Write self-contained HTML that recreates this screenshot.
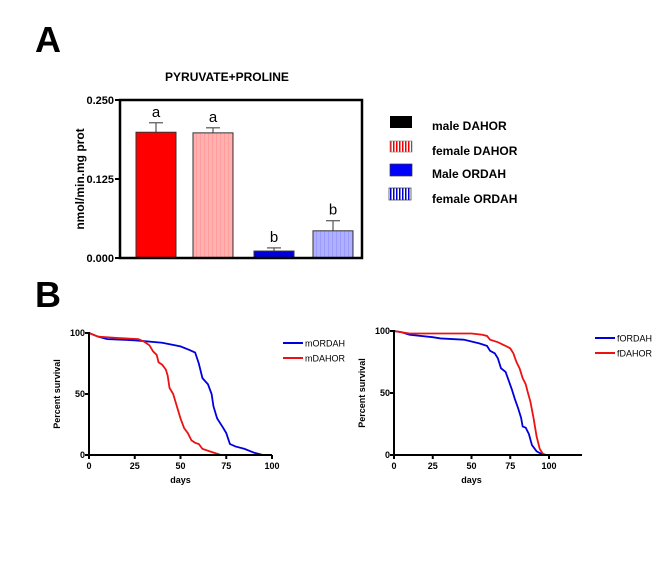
<!DOCTYPE html>
<html><head><meta charset="utf-8"><style>
body{margin:0;background:#fff;}
svg{display:block;font-family:"Liberation Sans",Arial,sans-serif;}
</style></head><body>
<svg id="fig" width="672" height="566" viewBox="0 0 672 566">
<defs>
<pattern id="pinkStripe" width="4" height="4" patternUnits="userSpaceOnUse"><rect width="4" height="4" fill="#ffb0b0"/><rect width="1" height="4" fill="#ff9c9c"/></pattern>
<pattern id="blueStripe" width="4" height="4" patternUnits="userSpaceOnUse"><rect width="4" height="4" fill="#b0b0ff"/><rect width="1" height="4" fill="#9c9cff"/></pattern>
<pattern id="legRed" width="3" height="4" patternUnits="userSpaceOnUse"><rect width="3" height="4" fill="#fff"/><rect width="1.5" height="4" fill="#e00"/></pattern>
<pattern id="legBlue" width="3" height="4" patternUnits="userSpaceOnUse"><rect width="3" height="4" fill="#fff"/><rect width="1.5" height="4" fill="#00c"/></pattern>
</defs>
<text x="35" y="52" font-size="36" font-weight="bold">A</text>
<text x="35" y="307" font-size="36" font-weight="bold">B</text>
<text x="227" y="81" font-size="12" font-weight="bold" text-anchor="middle">PYRUVATE+PROLINE</text>
<text transform="translate(84,179) rotate(-90)" font-size="12" font-weight="bold" text-anchor="middle">nmol/min.mg prot</text>
<g id="bars"></g>
<g>
<rect x="390" y="116" width="22" height="12" fill="#000"/>
<text x="432" y="130" font-size="12" font-weight="bold">male DAHOR</text>
<rect x="390" y="141" width="22" height="11" fill="url(#legRed)" stroke="#888" stroke-width="0.7"/>
<text x="432" y="155" font-size="12" font-weight="bold">female DAHOR</text>
<rect x="390" y="164" width="22" height="12" fill="#0000ff" stroke="#333" stroke-width="0.7"/>
<text x="432" y="178" font-size="12" font-weight="bold">Male ORDAH</text>
<rect x="389" y="188" width="22" height="12" fill="url(#legBlue)" stroke="#333" stroke-width="0.7"/>
<text x="432" y="203" font-size="12" font-weight="bold">female ORDAH</text>
</g>
<g id="surv1"></g>
<g id="surv2"></g>
</svg>
<script>
const barCats=["male DAHOR","female DAHOR","Male ORDAH","female ORDAH"];
const barVals=[0.199,0.198,0.011,0.043];
const barErr=[0.015,0.008,0.005,0.016];
const barLetters=["a","a","b","b"];
const barTicks=[0,0.125,0.25];
const barTickLabels=["0.000","0.125","0.250"];

const mDays=[0,5,10,25,40,50,55,58,60,62,65,67,68,70,73,75,77,80,85,90,95,100];
const mORDAH=[100,97,95,94,92,89,86,84,75,63,58,50,40,30,23,18,9,7,5,2,0,0];
const mDaysD=[0,5,15,27,30,33,35,37,38,40,42,43,44,46,48,50,52,54,56,58,60,62,66,70,72];
const mDAHOR=[100,97,96,95,93,90,85,82,76,74,70,65,55,50,40,30,22,18,12,10,9,5,3,1,0];
const fDaysO=[0,5,10,25,30,45,55,60,62,65,67,69,72,74,76,78,80,82,83,85,87,89,92,95,97];
const fORDAH=[100,99,97,95,94,93,90,88,84,82,78,70,67,60,53,45,38,30,23,22,17,8,3,1,0];
const fDaysD=[0,10,50,57,60,62,67,72,75,77,79,81,83,85,86,88,90,92,94,96,98];
const fDAHOR=[100,98,98,97,96,93,91,88,86,82,75,70,62,57,52,43,30,15,5,1,0];
const survTicksY=[0,50,100];
const survTicksX1=[0,25,50,75,100];
const survTicksX2=[0,25,50,75,100];

const NS="http://www.w3.org/2000/svg";
function mk(p,t,a){const e=document.createElementNS(NS,t);for(const k in a)e.setAttribute(k,a[k]);p.appendChild(e);return e;}

const bg=document.getElementById('bars');
const L=120,R=362,T=100,B=258;
const yB=v=>B-(v/0.25)*(B-T);
const bx=[136,193,254,313],bw=40;
const fills=["#ff0000","url(#pinkStripe)","#0000dd","url(#blueStripe)"];
barVals.forEach((v,i)=>{
  const cx=bx[i]+bw/2;
  const el=mk(bg,'line',{x1:cx,x2:cx,y1:yB(v),y2:yB(v+barErr[i]),stroke:'#555','stroke-width':1.2});
  
  
  const c=mk(bg,'line',{x1:cx-7,x2:cx+7,y1:yB(v+barErr[i]),y2:yB(v+barErr[i]),stroke:'#555','stroke-width':1.2});
  
  
  const r=mk(bg,'rect',{x:bx[i],y:yB(v),width:bw,height:B-yB(v),fill:fills[i],stroke:'#333','stroke-width':1});
  
  
  const t=mk(bg,'text',{x:cx,y:yB(v+barErr[i])-6,'font-size':15,'text-anchor':'middle'});
  t.textContent=barLetters[i];
  
  
});
const frame=mk(bg,'rect',{x:L,y:T,width:R-L,height:B-T,fill:'none',stroke:'#000','stroke-width':2.5});


barTicks.forEach((v,i)=>{
  const tl=mk(bg,'line',{x1:L-5,x2:L,y1:yB(v),y2:yB(v),stroke:'#000','stroke-width':2});
  
  
  const t=mk(bg,'text',{x:L-6,y:yB(v)+4,'font-size':11,'font-weight':'bold','text-anchor':'end'});
  t.textContent=barTickLabels[i];
  
  
});

function surv(gid,ox,x100,xEnd,xMax,y0,y100,series,ticksX,leg){
  const g=document.getElementById(gid);
  const X=d=>ox+d/100*(x100-ox), Y=v=>y0-v/100*(y0-y100);
  series.forEach(s=>{
    const pts=s.d.map((d,i)=>X(d)+','+Y(s.v[i]));
    const p=mk(g,'polyline',{points:pts.join(' '),fill:'none',stroke:s.c,'stroke-width':1.8});
    
    
  });
  const ax=mk(g,'path',{d:`M${ox},${y100-1} V${y0} H${xEnd}`,fill:'none',stroke:'#000','stroke-width':2});
  
  
  survTicksY.forEach(v=>{
    const l=mk(g,'line',{x1:ox-4,x2:ox,y1:Y(v),y2:Y(v),stroke:'#000','stroke-width':2});
    
    
    const t=mk(g,'text',{x:ox-4,y:Y(v)+3,'font-size':9,'font-weight':'bold','text-anchor':'end'});
    t.textContent=v;
    
    
  });
  ticksX.forEach(v=>{
    const l=mk(g,'line',{x1:X(v),x2:X(v),y1:y0,y2:y0+4,stroke:'#000','stroke-width':2});
    
    
    const t=mk(g,'text',{x:X(v),y:y0+14,'font-size':9,'font-weight':'bold','text-anchor':'middle'});
    t.textContent=v;
    
    
  });
  const xt=mk(g,'text',{x:(ox+x100)/2,y:y0+28,'font-size':9,'font-weight':'bold','text-anchor':'middle'});
  xt.textContent='days';
  
  
  const yt=mk(g,'text',{transform:`translate(${ox-29},${(y0+y100)/2}) rotate(-90)`,'font-size':9,'font-weight':'bold','text-anchor':'middle'});
  yt.textContent='Percent survival';
  
  
  series.forEach((s,i)=>{
    const yy=leg.y+i*15;
    const l=mk(g,'line',{x1:leg.x,x2:leg.x+20,y1:yy,y2:yy,stroke:s.c,'stroke-width':2});
    
    
    const t=mk(g,'text',{x:leg.x+22,y:yy+3.5,'font-size':9});
    t.textContent=s.n;
    
    
  });
}
surv('surv1',89,272,272,100,455,333,[{n:'mORDAH',d:mDays,v:mORDAH,c:'#0000dd'},{n:'mDAHOR',d:mDaysD,v:mDAHOR,c:'#ee1111'}],survTicksX1,{x:283,y:343});
surv('surv2',394,549,582,120,455,331,[{n:'fORDAH',d:fDaysO,v:fORDAH,c:'#0000dd'},{n:'fDAHOR',d:fDaysD,v:fDAHOR,c:'#ee1111'}],survTicksX2,{x:595,y:338});
</script>
</body></html>
